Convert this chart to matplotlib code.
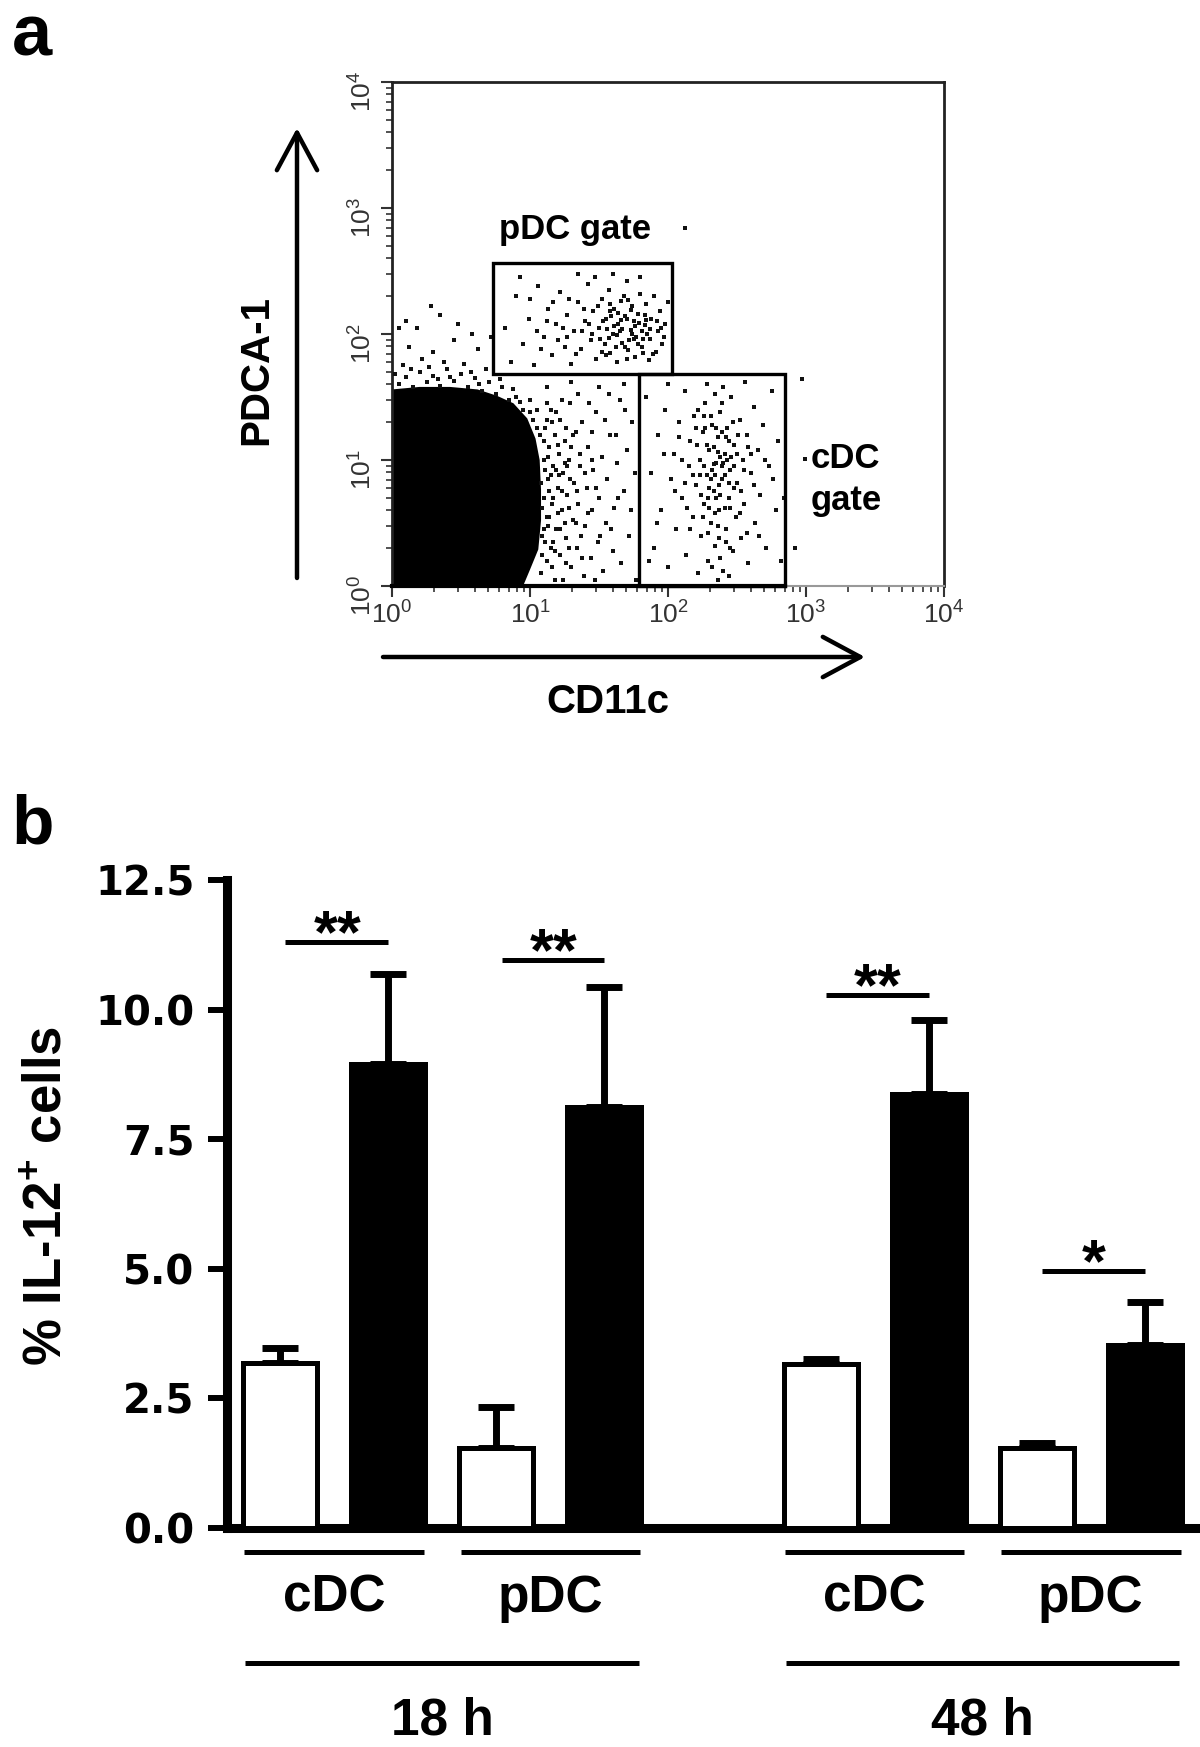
import numpy as np
import matplotlib.pyplot as plt
from matplotlib.patches import Rectangle, FancyArrowPatch

plt.rcParams['mathtext.default'] = 'regular'
plt.rcParams['font.family'] = ['Liberation Sans', 'DejaVu Sans']

W, H = 1200, 1747


def fp(x, y):
    # pixel position measured from the top-left -> figure fraction
    return x / W, 1 - y / H


# ---------------- panel a : flow plot (log10 units) ----------------
# outline of the saturated black cloud
blob_x = [0, 0, 0.20, 0.42, 0.62, 0.76, 0.88, 0.98, 1.04, 1.07, 1.08, 1.08, 1.06, 1.00, 0.95]
blob_y = [0, 1.56, 1.58, 1.58, 1.56, 1.51, 1.45, 1.33, 1.17, 1.00, 0.76, 0.52, 0.29, 0.13, 0]

pdc_pts = [(0.82, 2.05), (0.86, 1.78), (0.90, 2.30), (0.95, 1.92), (0.99, 2.12), (1.03, 1.75),
           (1.06, 2.38), (1.10, 1.98), (1.13, 2.20), (1.16, 1.83), (1.19, 2.08), (1.22, 2.33),
           (1.25, 1.90), (1.27, 2.15), (1.30, 1.76), (1.32, 2.02), (1.35, 2.25), (1.37, 1.88),
           (1.40, 2.10), (1.42, 2.40), (1.44, 1.95), (1.46, 2.18), (1.48, 1.80), (1.50, 2.05),
           (1.52, 2.28), (1.54, 1.92), (1.55, 2.12), (1.57, 2.35), (1.58, 1.85), (1.60, 2.00),
           (1.61, 2.20), (1.63, 1.78), (1.64, 2.08), (1.66, 2.26), (1.67, 1.93), (1.69, 2.14),
           (1.70, 2.42), (1.71, 1.87), (1.73, 2.03), (1.74, 2.22), (1.76, 1.82), (1.77, 1.98),
           (1.78, 2.16), (1.80, 2.32), (1.81, 1.90), (1.83, 2.07), (1.84, 2.24), (1.86, 1.79),
           (1.87, 1.96), (1.88, 2.12), (1.90, 2.30), (1.91, 1.86), (1.93, 2.02), (1.94, 2.18),
           (1.96, 1.92), (1.98, 2.08), (2.00, 2.25), (1.45, 2.00), (1.52, 1.86), (1.59, 2.14),
           (1.65, 2.02), (1.72, 1.95), (1.79, 2.09), (1.85, 2.00), (1.62, 1.90), (1.68, 2.30),
           (1.75, 2.10), (1.82, 1.96), (1.56, 2.04), (1.49, 2.22), (1.38, 2.02), (1.33, 1.84),
           (1.28, 2.28), (1.20, 1.95), (1.12, 2.10), (0.93, 2.45), (1.08, 1.88), (1.24, 2.05),
           (1.89, 1.84), (1.95, 2.05), (1.70, 1.80), (1.60, 2.48), (1.80, 2.45), (1.47, 2.45),
           (1.35, 2.48), (1.00, 2.28), (1.66, 2.11), (1.74, 2.00), (1.58, 2.18), (1.83, 2.15),
           (1.53, 2.10), (1.57, 1.97), (1.61, 2.06), (1.64, 2.17), (1.67, 2.04), (1.70, 2.12),
           (1.73, 2.19), (1.76, 2.06), (1.78, 1.92), (1.81, 2.02), (1.84, 2.11), (1.87, 2.04),
           (1.63, 1.99), (1.69, 1.90), (1.75, 1.96), (1.58, 2.24), (1.51, 1.96), (1.43, 2.08),
           (1.39, 2.20), (1.92, 2.10), (1.97, 1.98), (1.71, 2.27), (1.55, 1.83), (1.82, 1.85),
           (1.27, 1.98), (1.17, 2.25), (1.05, 2.02)]

cdc_pts = [(1.84, 1.50), (1.88, 0.90), (1.90, 0.30), (1.93, 1.20), (1.95, 0.60), (1.98, 1.40),
           (2.00, 0.15), (2.02, 0.85), (2.04, 1.05), (2.06, 0.45), (2.08, 1.30), (2.10, 0.70),
           (2.12, 1.55), (2.13, 0.25), (2.15, 0.95), (2.16, 1.15), (2.18, 0.55), (2.19, 1.35),
           (2.20, 0.80), (2.22, 0.10), (2.23, 1.00), (2.24, 0.40), (2.25, 1.22), (2.26, 0.65),
           (2.27, 1.45), (2.28, 0.88), (2.29, 0.20), (2.30, 1.08), (2.31, 0.50), (2.32, 1.28),
           (2.33, 0.75), (2.34, 0.32), (2.35, 0.98), (2.36, 1.18), (2.37, 0.60), (2.38, 1.38),
           (2.39, 0.85), (2.40, 0.12), (2.41, 1.05), (2.42, 0.45), (2.43, 1.25), (2.44, 0.70),
           (2.45, 0.92), (2.46, 1.50), (2.47, 0.28), (2.48, 1.12), (2.49, 0.55), (2.50, 0.82),
           (2.52, 1.32), (2.53, 0.38), (2.54, 1.00), (2.55, 0.65), (2.57, 1.20), (2.58, 0.18),
           (2.60, 0.90), (2.62, 1.42), (2.63, 0.50), (2.65, 1.08), (2.67, 0.72), (2.69, 1.28),
           (2.71, 0.30), (2.73, 0.95), (2.75, 1.55), (2.78, 0.60), (2.80, 1.15), (2.82, 0.20),
           (2.34, 1.52), (2.28, 1.60), (2.40, 1.58), (2.22, 1.40), (2.36, 0.05), (2.44, 0.08),
           (2.30, 0.78), (2.38, 1.02), (2.33, 1.10), (2.41, 0.88), (2.35, 0.70), (2.39, 1.22),
           (2.32, 0.92), (2.43, 1.00), (2.37, 0.80), (2.26, 0.95), (2.45, 0.62), (2.31, 1.35),
           (2.47, 1.30), (2.29, 0.42), (2.42, 0.35), (2.24, 0.72), (2.50, 1.05), (2.21, 1.12),
           (2.27, 1.25), (2.36, 0.48), (2.48, 0.78), (2.18, 0.88), (2.55, 0.92), (2.14, 0.62),
           (2.52, 0.58), (2.58, 1.10), (2.10, 1.00), (2.62, 0.80), (2.05, 0.75), (2.66, 0.40),
           (1.97, 1.05), (2.70, 1.00), (1.92, 0.50), (2.76, 0.85), (2.00, 1.60), (2.56, 1.62),
           (1.86, 0.20), (2.84, 0.70), (2.39, 0.95), (2.34, 0.88), (2.44, 1.15), (2.30, 0.62),
           (2.33, 0.97), (2.36, 1.06), (2.38, 0.72), (2.40, 0.98), (2.42, 1.18), (2.35, 1.25),
           (2.31, 0.85), (2.28, 1.12), (2.44, 0.82), (2.46, 1.02), (2.37, 0.38), (2.34, 0.58),
           (2.29, 0.70), (2.41, 0.62), (2.39, 1.45), (2.26, 1.35), (2.48, 0.95), (2.23, 0.88),
           (2.25, 0.55), (2.51, 1.20), (2.45, 0.30), (2.38, 0.22), (2.32, 0.15), (2.20, 1.25),
           (2.53, 0.75), (2.16, 0.45), (2.12, 0.82), (2.60, 1.05), (2.57, 0.42), (2.08, 1.18)]

mid_pts = [(1.08, 0.10), (1.09, 0.40), (1.10, 0.70), (1.10, 1.00), (1.11, 1.25), (1.12, 0.20),
           (1.12, 0.55), (1.13, 0.85), (1.14, 1.10), (1.15, 1.40), (1.15, 0.30), (1.16, 0.65),
           (1.17, 0.95), (1.18, 1.20), (1.18, 0.05), (1.19, 0.45), (1.20, 0.78), (1.21, 1.05),
           (1.22, 1.32), (1.22, 0.25), (1.23, 0.60), (1.24, 0.90), (1.25, 1.15), (1.26, 0.38),
           (1.27, 0.72), (1.28, 1.00), (1.29, 1.45), (1.30, 0.15), (1.31, 0.52), (1.32, 0.82),
           (1.33, 1.22), (1.34, 0.30), (1.35, 0.65), (1.36, 0.95), (1.38, 1.30), (1.39, 0.08),
           (1.40, 0.48), (1.41, 0.78), (1.42, 1.10), (1.44, 0.22), (1.45, 0.60), (1.46, 0.92),
           (1.48, 1.38), (1.49, 0.35), (1.50, 0.70), (1.52, 1.02), (1.53, 0.12), (1.55, 0.50),
           (1.56, 0.85), (1.58, 1.20), (1.60, 0.28), (1.61, 0.62), (1.63, 0.98), (1.65, 1.48),
           (1.66, 0.18), (1.68, 0.75), (1.70, 1.08), (1.72, 0.40), (1.74, 1.30), (1.76, 0.90),
           (1.77, 0.05), (1.13, 0.48), (1.16, 0.15), (1.19, 1.38), (1.21, 0.88), (1.24, 0.05),
           (1.26, 1.25), (1.14, 0.75), (1.17, 0.35), (1.20, 0.58), (1.23, 1.48), (1.27, 0.95),
           (1.30, 1.10), (1.11, 0.92), (1.09, 0.25), (1.12, 1.45), (1.25, 0.50), (1.37, 0.40),
           (1.43, 1.45), (1.47, 0.05), (1.54, 1.32), (1.59, 0.45), (1.64, 0.70), (1.69, 1.40),
           (1.73, 0.60), (1.57, 1.52), (1.35, 1.52), (1.62, 1.20), (1.45, 1.22), (1.28, 0.30),
           (1.05, 1.40), (1.00, 1.48), (1.12, 1.58), (1.30, 1.62), (1.50, 1.58), (1.68, 1.60),
           (1.09, 0.62), (1.10, 1.15), (1.11, 0.35), (1.13, 1.02), (1.14, 0.55), (1.15, 0.88),
           (1.16, 1.30), (1.17, 0.70), (1.18, 0.28), (1.19, 0.92), (1.20, 1.12), (1.22, 0.45),
           (1.23, 0.75), (1.25, 0.98), (1.26, 0.18), (1.28, 0.62), (1.29, 0.85), (1.31, 1.20),
           (1.33, 0.50), (1.34, 0.75), (1.36, 1.05), (1.38, 0.22), (1.40, 0.90), (1.42, 0.58),
           (1.45, 1.00), (1.48, 0.78), (1.51, 0.40), (1.08, 0.82), (1.10, 0.45), (1.12, 1.32)]

fringe_pts = [(0.05, 1.60), (0.10, 1.66), (0.15, 1.58), (0.20, 1.70), (0.25, 1.62), (0.30, 1.67),
              (0.35, 1.59), (0.40, 1.72), (0.45, 1.63), (0.50, 1.68), (0.55, 1.58), (0.60, 1.65),
              (0.65, 1.55), (0.70, 1.62), (0.75, 1.52), (0.80, 1.58), (0.85, 1.48), (0.90, 1.50),
              (0.95, 1.40), (1.00, 1.38), (1.05, 1.25), (0.08, 1.75), (0.22, 1.80), (0.38, 1.78),
              (0.52, 1.76), (0.68, 1.72), (0.12, 1.90), (0.30, 1.86), (0.45, 1.95), (0.18, 2.05),
              (0.58, 2.00), (0.10, 2.10), (0.35, 2.15), (0.62, 1.88), (0.28, 2.22), (0.05, 2.05),
              (0.48, 2.08), (0.72, 1.98), (2.12, 2.84), (2.97, 1.64), (2.99, 1.01), (2.92, 0.30),
              (0.02, 1.68), (0.14, 1.72), (0.27, 1.74), (0.33, 1.64), (0.42, 1.66), (0.57, 1.70),
              (0.63, 1.60), (0.78, 1.64), (0.88, 1.56), (0.93, 1.46), (1.02, 1.32), (1.07, 1.20)]

pdc_gate = [5.4, 107, 48, 365]   # x0, x1, y0, y1
cdc_gate = [62, 708, 1, 48]
decades = [1, 10, 100, 1000, 10000]

# ---------------- panel b : bar chart ----------------
cells = ['cDC', 'pDC', 'cDC', 'pDC']
times = ['18 h', '48 h']
ctrl_mean = [3.18, 1.54, 3.17, 1.54]
ctrl_err = [0.29, 0.80, 0.09, 0.10]
trt_mean = [8.96, 8.13, 8.38, 3.53]
trt_err = [1.73, 2.31, 1.41, 0.83]
sig = ['**', '**', '**', '*']
sig_y = [11.31, 10.96, 10.29, 4.96]
yticks = [0, 2.5, 5, 7.5, 10, 12.5]

ctrl_pos = np.array([0, 2, 5, 7])
trt_pos = ctrl_pos + 1

fig = plt.figure(figsize=(W / 100, H / 100), dpi=100)

# ===== panel a =====
ax = fig.add_axes([392 / W, 1 - 586 / H, 552 / W, 504 / H])
ax.set_xscale('log')
ax.set_yscale('log')
ax.set_xlim(1, 1e4)
ax.set_ylim(1, 1e4)

ax.fill(10 ** np.array(blob_x), 10 ** np.array(blob_y), color='black', lw=0, zorder=2)
for pts in (pdc_pts, cdc_pts, mid_pts, fringe_pts):
    px = 10 ** np.array([p[0] for p in pts])
    py = 10 ** np.array([p[1] for p in pts])
    ax.scatter(px, py, s=8, marker='s', color='#111', lw=0, zorder=3, clip_on=False)

for g in (pdc_gate, cdc_gate):
    ax.add_patch(Rectangle((g[0], g[2]), g[1] - g[0], g[3] - g[2], fill=False,
                           ec='black', lw=2.4, zorder=4, clip_on=False))
ax.plot([1, cdc_gate[1]], [1, 1], color='black', lw=3, zorder=4, clip_on=False)

for s in ('top', 'right', 'left'):
    ax.spines[s].set_color('#222')
    ax.spines[s].set_linewidth(2)
ax.spines['bottom'].set_color('#999')
ax.spines['bottom'].set_linewidth(1.5)

ax.set_xticks(decades)
ax.set_yticks(decades)
ax.tick_params(which='major', direction='out', length=8, width=1.5, color='#333',
               labelsize=19, labelcolor='#333', labelfontfamily='Liberation Sans', pad=3)
ax.tick_params(which='minor', direction='out', length=4, width=1.2, color='#333')
ax.tick_params(axis='y', labelrotation=90)

fig.text(*fp(575, 239), 'pDC gate', ha='center', va='baseline', fontsize=25, fontweight='bold')
fig.text(*fp(811, 468), 'cDC', ha='left', va='baseline', fontsize=25, fontweight='bold')
fig.text(*fp(811, 510), 'gate', ha='left', va='baseline', fontsize=25, fontweight='bold')

fig.add_artist(FancyArrowPatch(fp(297, 578), fp(297, 128), transform=fig.transFigure,
                               arrowstyle='->,head_length=2.7,head_width=1.45', mutation_scale=10,
                               lw=3.2, color='black', shrinkA=0, shrinkB=0))
fig.add_artist(FancyArrowPatch(fp(383, 657), fp(865, 657), transform=fig.transFigure,
                               arrowstyle='->,head_length=2.7,head_width=1.45', mutation_scale=10,
                               lw=3.2, color='black', shrinkA=0, shrinkB=0))
fig.text(*fp(256, 370), 'PDCA-1', rotation=90, ha='center', va='center', fontsize=29, fontweight='bold')
fig.text(*fp(608, 702), 'CD11c', ha='center', va='center', fontsize=29, fontweight='bold')

fig.text(*fp(12, 56), 'a', ha='left', va='baseline', fontsize=52, fontweight='bold')
fig.text(*fp(11, 843), 'b', ha='left', va='baseline', fontsize=50, fontweight='bold')

# ===== panel b =====
bx = fig.add_axes([227 / W, 1 - 1528 / H, 973 / W, 648 / H])
bx.set_xlim(-0.49, 8.51)
bx.set_ylim(0, 12.5)

bw = 0.685
bx.errorbar(ctrl_pos, ctrl_mean, yerr=[np.zeros(4), ctrl_err], fmt='none', ecolor='black',
            elinewidth=5, capsize=13, capthick=5, zorder=2)
bx.errorbar(trt_pos, trt_mean, yerr=[np.zeros(4), trt_err], fmt='none', ecolor='black',
            elinewidth=5, capsize=13, capthick=5, zorder=2)
bx.bar(ctrl_pos, ctrl_mean, width=bw, color='white', edgecolor='black', linewidth=3.6, zorder=3)
bx.bar(trt_pos, trt_mean, width=bw, color='black', edgecolor='black', linewidth=3.6, zorder=3)

for x0, x1, yv, lab in zip(ctrl_pos, trt_pos, sig_y, sig):
    bx.plot([x0 + 0.05, x1], [yv, yv], color='black', lw=3.6, solid_capstyle='butt', zorder=4)
    bx.text((x0 + x1) / 2 + 0.03, yv - 0.2, lab, ha='center', va='baseline',
            fontsize=44, fontweight='bold')

for x0, lab in zip(ctrl_pos, cells):
    c = x0 + 0.5
    bx.plot([c - 0.83, c + 0.83], [-0.46, -0.46], color='black', lw=3.6,
            solid_capstyle='butt', clip_on=False)
    bx.text(c, -1.62, lab, ha='center', va='baseline', fontsize=37, fontweight='bold')

for k, lab in enumerate(times):
    c = (ctrl_pos[2 * k] + trt_pos[2 * k + 1]) / 2
    bx.plot([c - 1.82, c + 1.82], [-2.60, -2.60], color='black', lw=3.6,
            solid_capstyle='butt', clip_on=False)
    bx.text(c, -3.99, lab, ha='center', va='baseline', fontsize=37, fontweight='bold')

bx.spines['top'].set_visible(False)
bx.spines['right'].set_visible(False)
bx.spines['left'].set_linewidth(6.5)
bx.spines['bottom'].set_linewidth(6.5)
bx.spines['left'].set_bounds(0, 12.5)
bx.set_xticks([])
bx.set_yticks(yticks)
bx.set_yticklabels(['%.1f' % v for v in yticks])
bx.tick_params(axis='y', length=13.5, width=4.3, pad=10, labelsize=29)
for t in bx.get_yticklabels():
    t.set_fontfamily('DejaVu Sans')
    t.set_fontweight('bold')

fig.text(*fp(47, 1196), '% IL-12$^{+}$ cells', rotation=90, ha='center', va='center',
         fontsize=38, fontweight='bold')

fig.savefig('out.png', dpi=100)
